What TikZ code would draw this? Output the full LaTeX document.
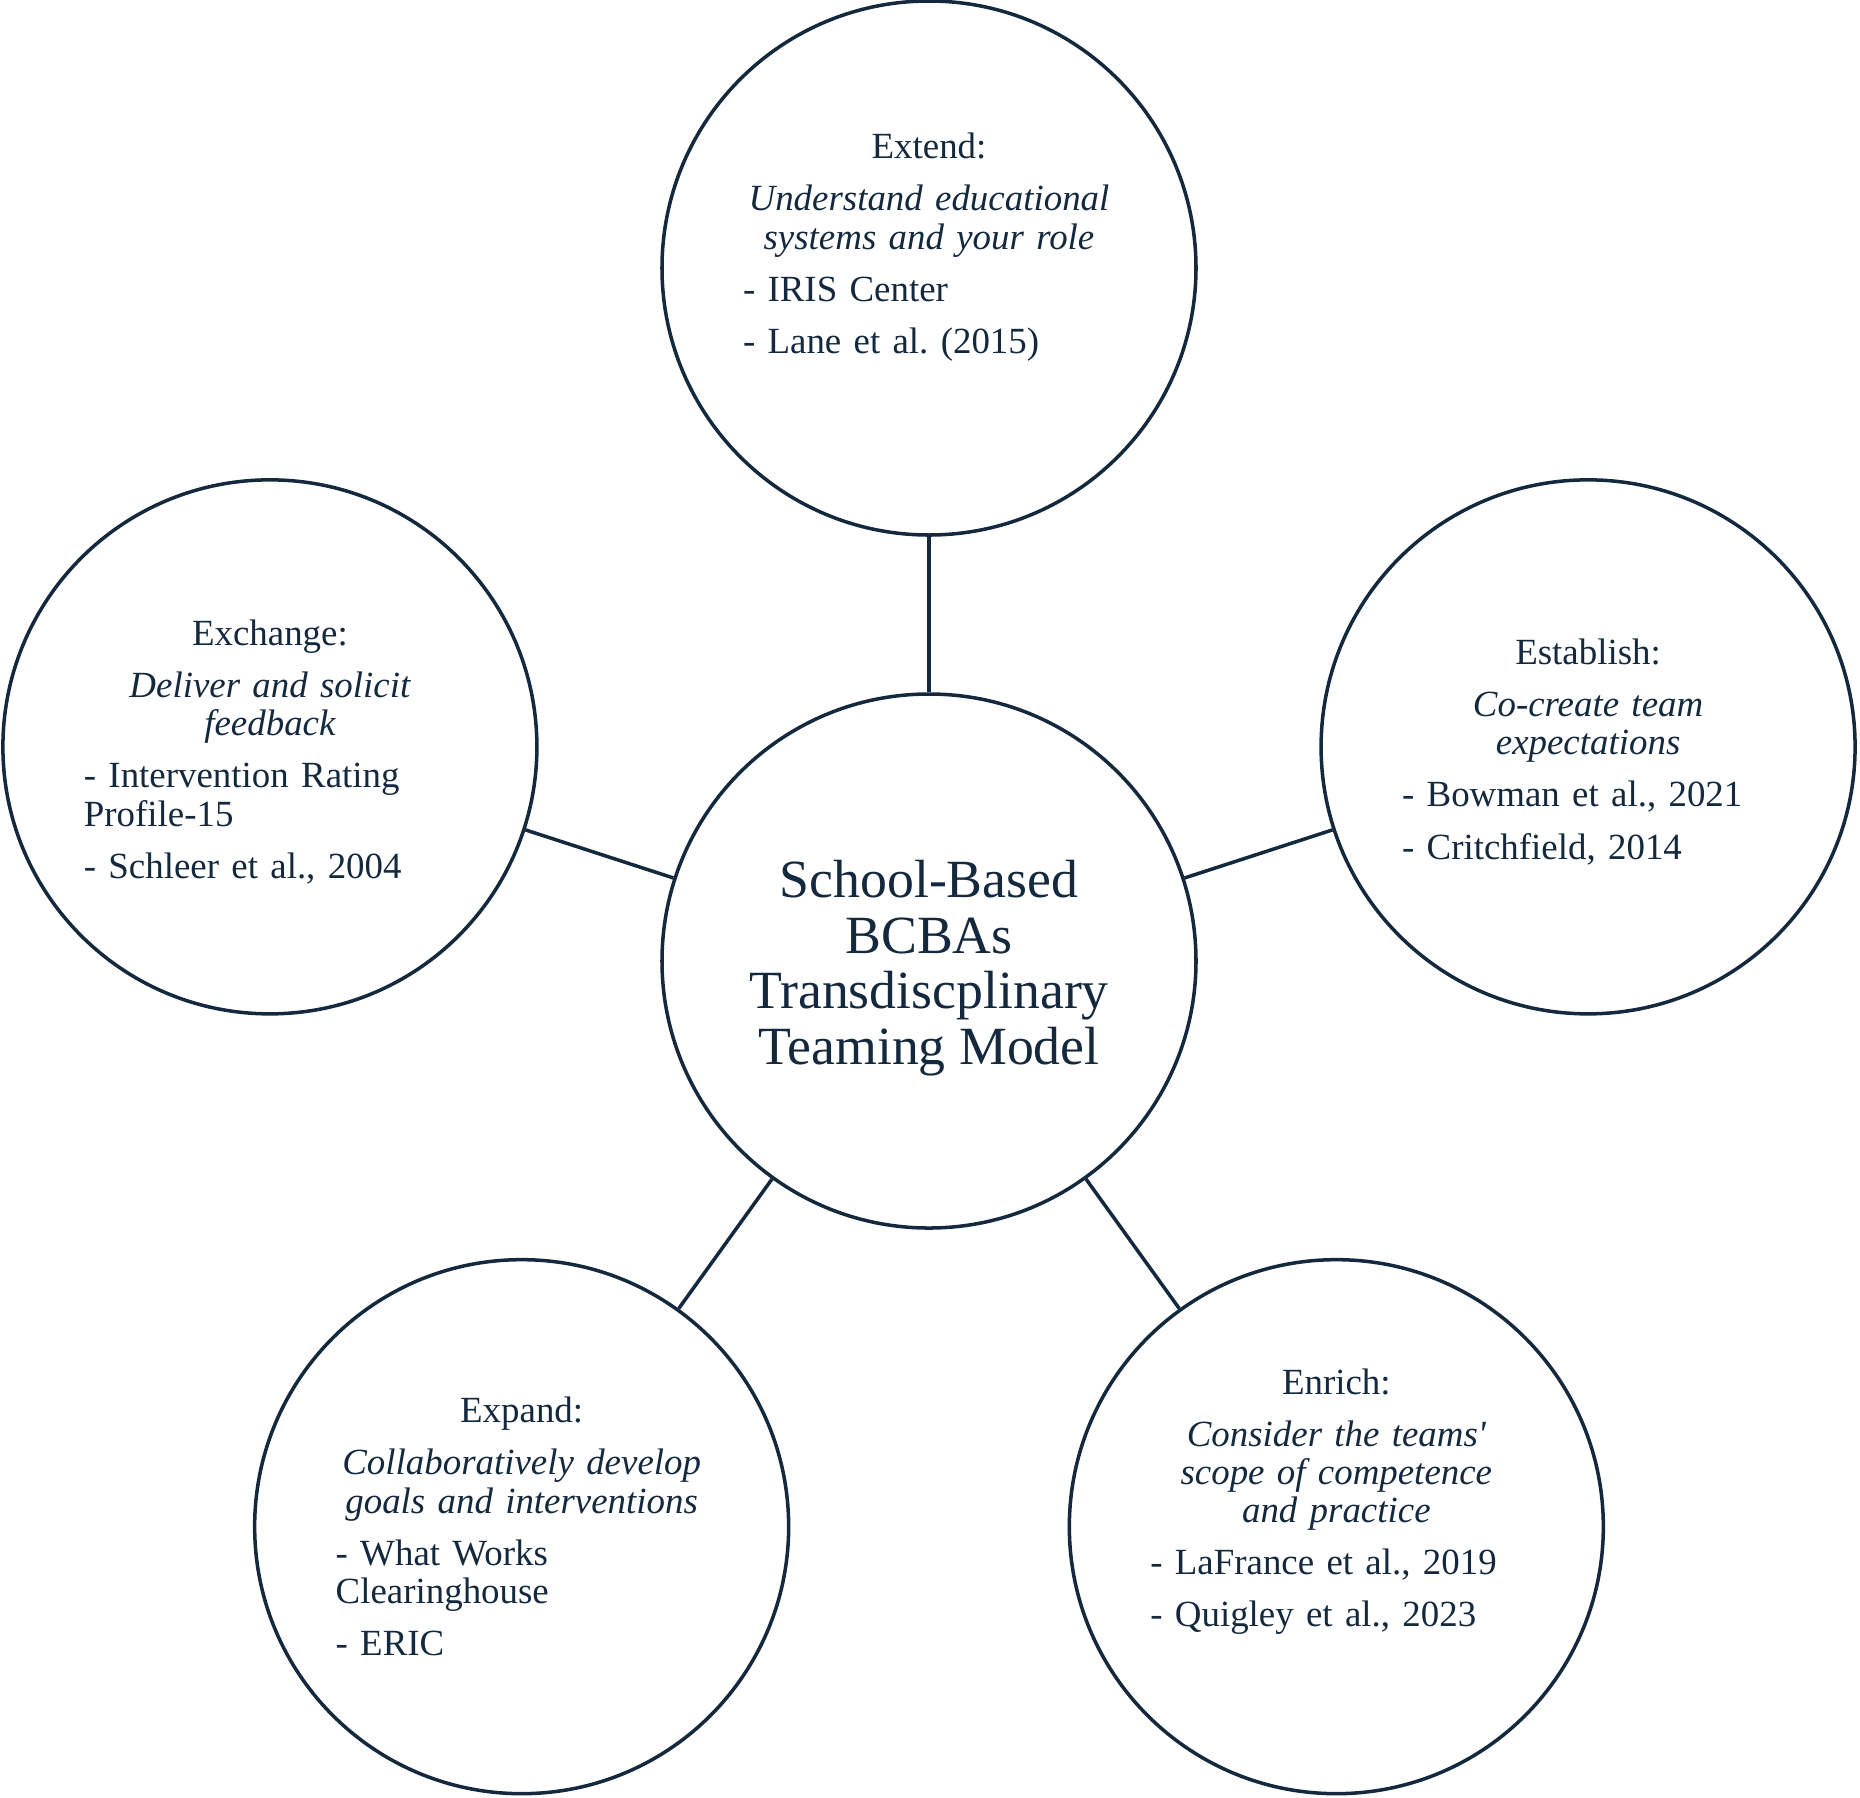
\documentclass[tikz,border=0pt]{standalone}
\usepackage{fontspec}
\setmainfont{Liberation Serif}[Ligatures=TeXOff]
\usetikzlibrary{calc}
\definecolor{ink}{HTML}{14293E}
% title, italic aim, list of sources
\newcommand\bubblenote[3]{%
  \centering #1\par
  \itshape #2\par
  \upshape\raggedright #3\par}
\tikzset{
  teaming scheme/.style = {
    line width = 1pt,
    color      = ink,
    % Круги
    bubble/.style   = {circle, draw, minimum size=5.34cm, inner sep=0pt},
    hub text/.style = {align=center, inner sep=0pt,
                       font=\fontsize{15.3}{15.85}\selectfont},
    note/.style     = {text width=3.72cm, inner sep=0pt,
                       font=\fontsize{10.5}{10.9}\selectfont,
                       execute at begin node={\frenchspacing
                         \setlength{\parskip}{3.9pt}}},
    % Линии
    spoke/.style    = {line width=1pt},
  }
}
\begin{document}
\begin{tikzpicture}[teaming scheme]
  \useasboundingbox (-9.29,-8.36) rectangle (9.31,9.61);

  \node [bubble] (hub) at (0,0) {};
  \node [hub text, yshift=-0.07cm] (hub label) at (hub)
    {School-Based\\BCBAs\\Transdiscplinary\\Teaming Model};

  \node [bubble] (extend)    at ( 90:6.93) {};
  \node [bubble] (establish) at ( 18:6.93) {};
  \node [bubble, yshift=-0.05cm] (enrich) at (-54:6.93) {};
  \node [bubble, yshift=-0.05cm] (expand) at (234:6.93) {};
  \node [bubble] (exchange)  at (162:6.93) {};

  \node [note, yshift=0.21cm] (extend text) at (extend)
    {\bubblenote{Extend:}{Understand educational\\systems and your role}
      {- IRIS Center\par - Lane et al. (2015)}};
  \node [note, yshift=-0.05cm] (establish text) at (establish)
    {\bubblenote{Establish:}{Co-create team\\expectations}
      {- Bowman et al., 2021\par - Critchfield, 2014}};
  \node [note, yshift=0.25cm] (enrich text) at (enrich)
    {\bubblenote{Enrich:}{Consider the teams'\\scope of competence\\and practice}
      {- LaFrance et al., 2019\par - Quigley et al., 2023}};
  \node [note] (expand text) at (expand)
    {\bubblenote{Expand:}{Collaboratively develop\\goals and interventions}
      {- What Works\\Clearinghouse\par - ERIC}};
  \node [note, yshift=-0.05cm] (exchange text) at (exchange)
    {\bubblenote{Exchange:}{Deliver and solicit\\feedback}
      {- Intervention Rating\\Profile-15\par - Schleer et al., 2004}};

  \foreach \s in {extend,establish,enrich,expand,exchange}
    \draw [spoke] (hub) -- (\s);

\end{tikzpicture}
\end{document}
